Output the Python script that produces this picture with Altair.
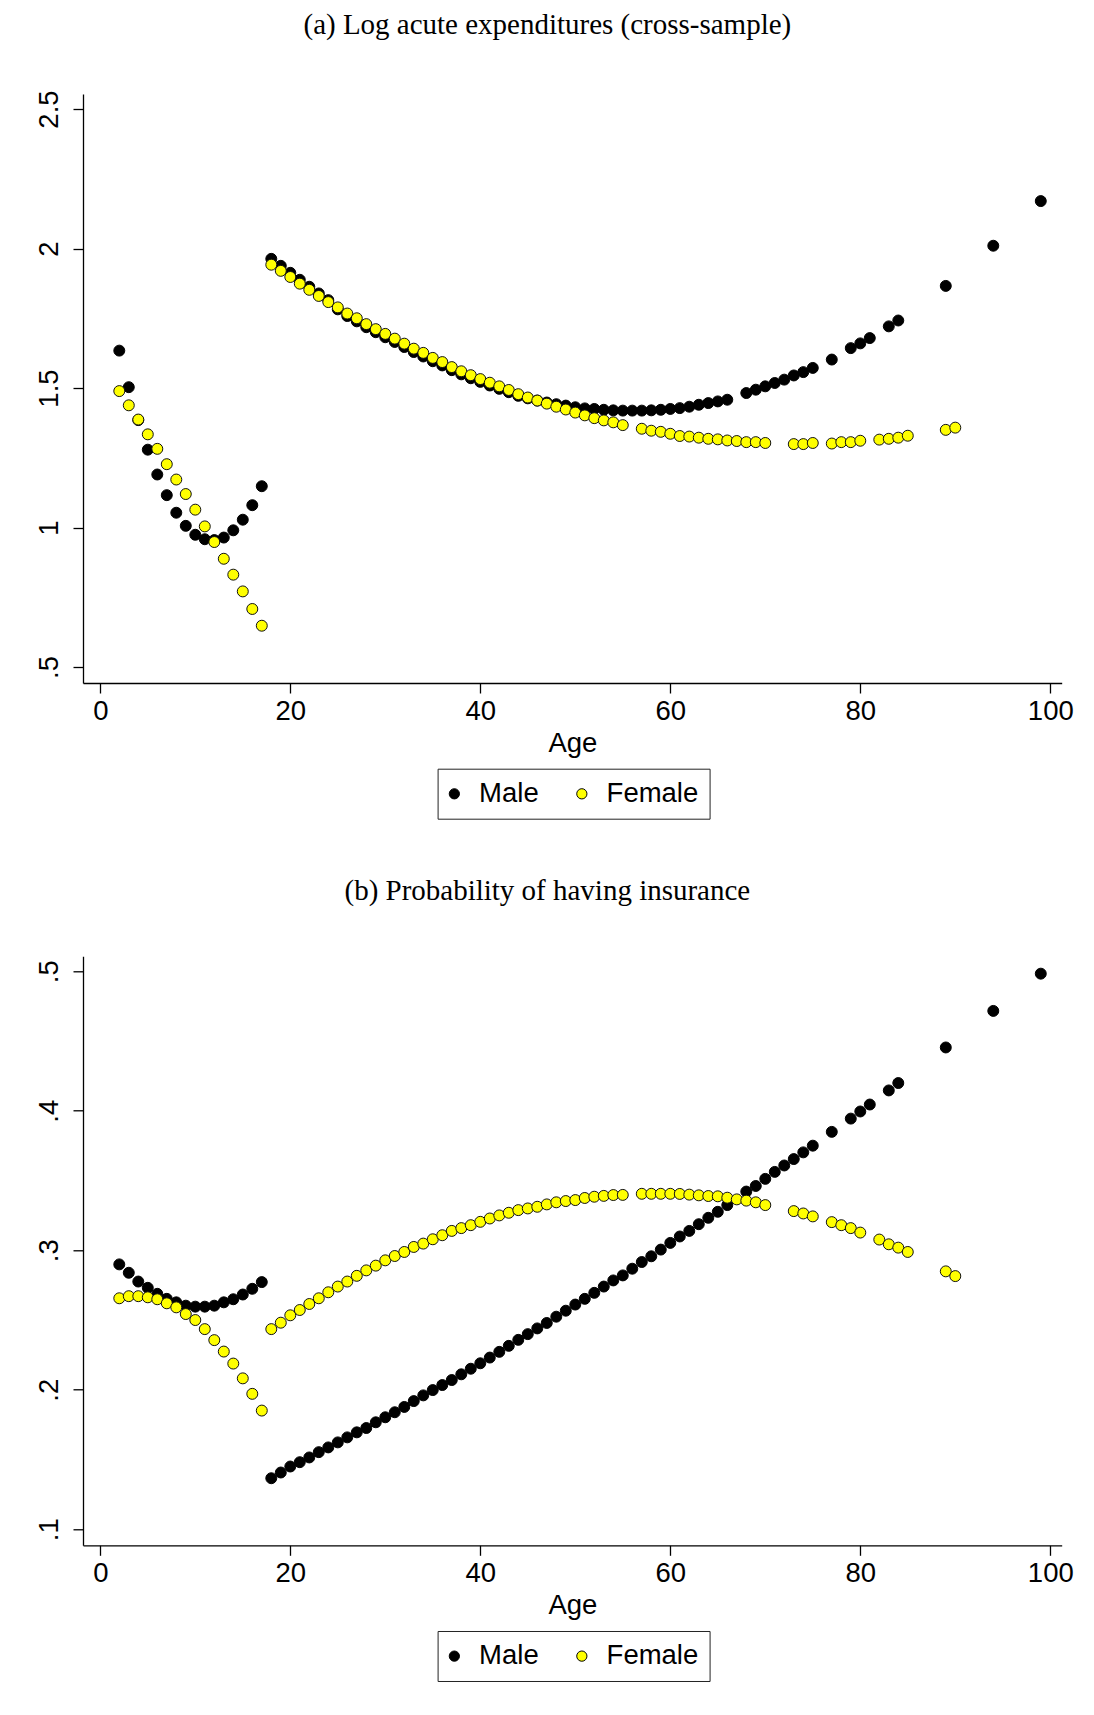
import altair as alt
import pandas as pd

# ---------------- data ----------------
male_ages = list(range(2, 67)) + [68, 69, 70, 71, 72, 73, 74, 75, 77, 79, 80, 81, 83, 84, 89, 94, 99]
female_ages = (list(range(2, 56)) + list(range(57, 71)) + [73, 74, 75, 77, 78, 79, 80,
               82, 83, 84, 85, 89, 90])

# (a) Log acute expenditures
exp_male = [1.634, 1.503, 1.385, 1.279, 1.190, 1.116, 1.053, 1.006, 0.974, 0.958, 0.955, 0.964,
            0.990, 1.028, 1.080, 1.148,
            1.963, 1.938, 1.913, 1.888, 1.863, 1.839, 1.815, 1.782, 1.758, 1.739, 1.718, 1.700,
            1.682, 1.665, 1.647, 1.629, 1.613, 1.596, 1.581, 1.564, 1.549, 1.535, 1.522, 1.509,
            1.497, 1.485, 1.472, 1.463, 1.455, 1.448, 1.442, 1.437, 1.431, 1.427, 1.425, 1.422,
            1.420, 1.419, 1.419, 1.419, 1.420, 1.422, 1.425, 1.428, 1.433, 1.440, 1.446, 1.452,
            1.458,
            1.482, 1.494, 1.506, 1.518, 1.530, 1.545, 1.557, 1.572, 1.602, 1.643, 1.660, 1.679,
            1.721, 1.742, 1.866, 2.010, 2.170]
exp_female = [1.489, 1.438, 1.387, 1.334, 1.282, 1.227, 1.172, 1.120, 1.064, 1.004, 0.948, 0.888,
              0.831, 0.771, 0.708, 0.648,
              1.942, 1.920, 1.898, 1.874, 1.852, 1.830, 1.808, 1.789, 1.767, 1.750, 1.729, 1.711,
              1.694, 1.677, 1.659, 1.641, 1.626, 1.608, 1.593, 1.575, 1.560, 1.546, 1.532, 1.519,
              1.506, 1.493, 1.478, 1.466, 1.455, 1.444, 1.433, 1.423, 1.412, 1.402, 1.392, 1.384,
              1.377, 1.367,
              1.354, 1.347, 1.343, 1.336, 1.328, 1.326, 1.322, 1.318, 1.316, 1.312, 1.310, 1.306,
              1.306, 1.303,
              1.299, 1.299, 1.303, 1.301, 1.306, 1.306, 1.311, 1.315, 1.318, 1.322, 1.329, 1.350,
              1.358]

# (b) Probability of having insurance
ins_male = [0.2899, 0.2839, 0.2776, 0.2731, 0.2688, 0.2652, 0.2627, 0.2603, 0.2596, 0.2596,
            0.2603, 0.2627, 0.2649, 0.2683, 0.2724, 0.2772,
            0.1366, 0.1407, 0.1450, 0.1481, 0.1515, 0.1553, 0.1587, 0.1623, 0.1659, 0.1695,
            0.1726, 0.1767, 0.1803, 0.1839, 0.1877, 0.1919, 0.1960, 0.1998, 0.2034, 0.2070,
            0.2111, 0.2151, 0.2190, 0.2231, 0.2272, 0.2315, 0.2358, 0.2399, 0.2440, 0.2479,
            0.2524, 0.2567, 0.2611, 0.2652, 0.2695, 0.2740, 0.2784, 0.2820, 0.2868, 0.2916,
            0.2957, 0.3005, 0.3053, 0.3099, 0.3139, 0.3187, 0.3233, 0.3276, 0.3324,
            0.3421, 0.3461, 0.3512, 0.3562, 0.3608, 0.3654, 0.3702, 0.3750, 0.3849, 0.3944,
            0.3995, 0.4045, 0.4146, 0.4199, 0.4454, 0.4716, 0.4983]
ins_female = [0.2656, 0.2671, 0.2671, 0.2663, 0.2649, 0.2620, 0.2591, 0.2543, 0.2500, 0.2435,
              0.2356, 0.2274, 0.2188, 0.2082, 0.1971, 0.1851,
              0.2435, 0.2481, 0.2534, 0.2572, 0.2615, 0.2656, 0.2699, 0.2740, 0.2776, 0.2817,
              0.2856, 0.2890, 0.2928, 0.2959, 0.2988, 0.3024, 0.3048, 0.3079, 0.3108, 0.3139,
              0.3159, 0.3180, 0.3204, 0.3228, 0.3250, 0.3269, 0.3288, 0.3300, 0.3312, 0.3329,
              0.3344, 0.3353, 0.3360, 0.3375, 0.3384, 0.3390, 0.3396, 0.3397,
              0.3405, 0.3405, 0.3405, 0.3405, 0.3404, 0.3399, 0.3394, 0.3389, 0.3387, 0.3377,
              0.3365, 0.3356, 0.3344, 0.3324,
              0.3281, 0.3264, 0.3243, 0.3202, 0.3180, 0.3159, 0.3127, 0.3077, 0.3043, 0.3019,
              0.2988, 0.2849, 0.2815]

x_ticks = [0, 20, 40, 60, 80, 100]
exp_ticks = [0.5, 1, 1.5, 2, 2.5]
ins_ticks = [0.1, 0.2, 0.3, 0.4, 0.5]

title_a = "(a) Log acute expenditures (cross-sample)"
title_b = "(b) Probability of having insurance"

SANS = "Liberation Sans"
SERIF = "Liberation Serif"
FS = 27.5
PLOT_W = 978.7
PLOT_H = 589


def panel(title, m_vals, f_vals, ydomain, yticks):
    df_m = pd.DataFrame({"Age": male_ages, "value": m_vals, "Sex": "Male"})
    df_f = pd.DataFrame({"Age": female_ages, "value": f_vals, "Sex": "Female"})
    x = alt.X("Age:Q",
              scale=alt.Scale(domain=[-1.82, 101.2], nice=False, zero=False),
              axis=alt.Axis(values=x_ticks, title="Age", labelFlush=False, labelOverlap=False,
                            labelPadding=4, titlePadding=5, format="d"))
    y = alt.Y("value:Q",
              scale=alt.Scale(domain=ydomain, nice=False, zero=False),
              axis=alt.Axis(values=yticks, title=None, labelAngle=270, labelAlign="center",
                            labelBaseline="bottom", labelPadding=9, labelFlush=False,
                            labelOverlap=False, minExtent=74.7, maxExtent=74.7,
                            labelExpr="datum.value < 1 ? substring(toString(datum.value), 1) : toString(datum.value)"))
    fill = alt.Fill("Sex:N",
                    scale=alt.Scale(domain=["Male", "Female"], range=["#000000", "#FFFF00"]),
                    legend=alt.Legend(title=None, orient="none", legendX=354.6, legendY=674.7,
                                      direction="horizontal", strokeColor="#222222", padding=11,
                                      symbolType="circle", symbolSize=105, symbolOffset=-8,
                                      symbolStrokeColor="#000000", symbolStrokeWidth=1,
                                      labelFont=SANS, labelFontSize=FS, labelOffset=11,
                                      columnPadding=34.5, labelColor="#000000"))
    lm = alt.Chart(df_m).mark_circle(size=120, stroke="#000000", strokeWidth=1, opacity=1).encode(
        x=x, y=y, fill=fill)
    lf = alt.Chart(df_f).mark_circle(size=120, stroke="#111111", strokeWidth=1, opacity=1).encode(
        x=x, y=y, fill=fill)
    return alt.layer(lm, lf).properties(
        width=PLOT_W, height=PLOT_H,
        title=alt.TitleParams(title, font=SERIF, fontSize=29, fontWeight="normal", color="#000000",
                              anchor="middle", frame="group", dx=-25, baseline="alphabetic",
                              offset=27))


top = panel(title_a, exp_male, exp_female, [0.4427, 2.5538], exp_ticks)
bottom = panel(title_b, ins_male, ins_female, [0.08853, 0.51075], ins_ticks)

chart = alt.vconcat(top, bottom, spacing=57.3).resolve_scale(
    x="independent", y="independent", fill="independent").resolve_legend(
    fill="independent").properties(
    padding={"left": 0, "top": 2, "right": 5, "bottom": 5}
).configure_view(strokeWidth=0).configure_axis(
    domainColor="#000000", domainWidth=1.3, tickColor="#000000", tickWidth=1.3, tickSize=10,
    labelFont=SANS, labelFontSize=FS, labelColor="#000000", titleFont=SANS, titleFontSize=FS,
    titleFontWeight="normal", titleColor="#000000", grid=False
)

chart.save("out.html", embed_options={"renderer": "svg", "actions": False})
